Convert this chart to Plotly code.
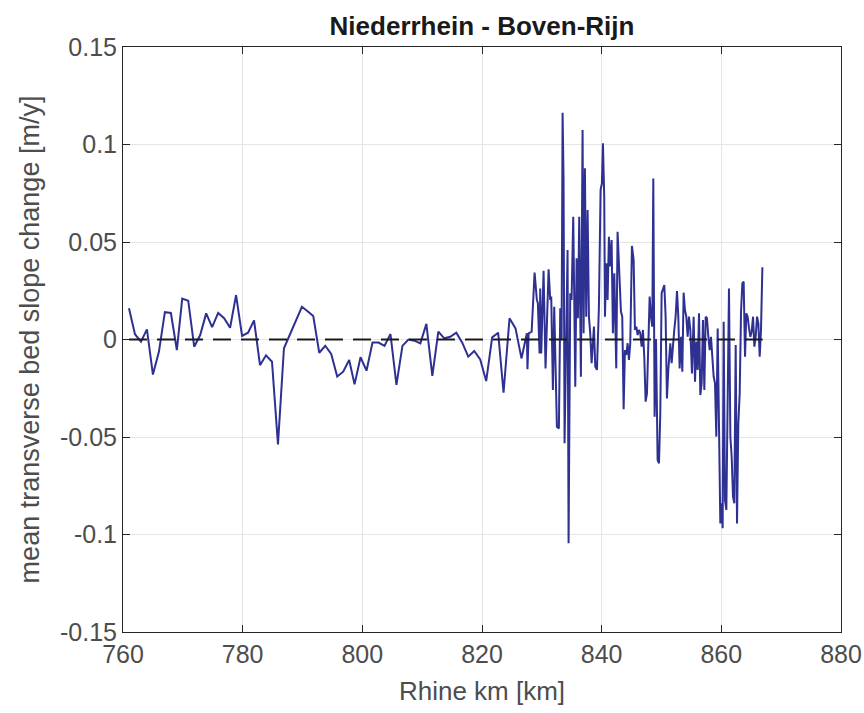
import plotly.graph_objects as go

# Rhine km and mean transverse bed slope change [m/y]
km = [
    761.0, 762.0, 763.0, 764.0, 765.0, 766.0, 767.0, 768.0, 769.0, 769.9,
    770.9, 771.9, 772.9, 773.9, 774.9, 775.9, 776.9, 777.9, 778.9, 779.9,
    780.9, 781.9, 782.9, 783.9, 784.9, 785.9, 786.9, 787.9, 788.9, 789.9,
    790.9, 791.8, 792.8, 793.8, 794.8, 795.8, 796.8, 797.8, 798.7, 799.7,
    800.7, 801.7, 802.7, 803.7, 804.7, 805.7, 806.7, 807.7, 808.7, 809.7,
    810.7, 811.7, 812.7, 813.7, 814.7, 815.7, 816.7, 817.7, 818.7, 819.7,
    820.7, 821.7, 822.7, 823.6, 824.6, 825.6, 826.6, 827.5, 827.6, 827.8,
    828.3, 828.79, 829.17, 829.34, 829.62, 829.73, 829.90, 830.29, 830.62, 830.85,
    831.13, 831.40, 831.57, 831.85, 832.07, 832.52, 832.85, 833.08, 833.30, 833.47,
    833.63, 833.80, 834.08, 834.30, 834.47, 834.75, 834.97, 835.25, 835.59, 835.81,
    836.03, 836.25, 836.53, 836.81, 836.98, 837.20, 837.42, 837.65, 837.87, 838.09,
    838.32, 838.71, 838.93, 839.21, 839.54, 839.82, 840.04, 840.21, 840.43, 840.55,
    840.77, 840.99, 841.21, 841.44, 841.66, 841.88, 842.11, 842.44, 842.66, 842.89,
    843.22, 843.44, 843.67, 843.89, 844.11, 844.34, 844.56, 844.78, 845.06, 845.34,
    845.56, 845.79, 846.01, 846.23, 846.45, 846.68, 846.90, 847.12, 847.35, 847.57,
    847.79, 848.02, 848.24, 848.46, 848.63, 848.85, 849.08, 849.35, 849.58, 849.80,
    850.02, 850.25, 850.47, 850.69, 850.91, 851.14, 851.47, 851.69, 851.92, 852.14,
    852.36, 852.59, 852.81, 853.03, 853.26, 853.48, 853.70, 853.92, 854.15, 854.37,
    854.59, 854.82, 855.09, 855.37, 855.60, 855.82, 856.04, 856.27, 856.49, 856.71,
    856.93, 857.16, 857.38, 857.60, 857.83, 858.05, 858.27, 858.49, 858.72, 858.94,
    859.16, 859.39, 859.61, 859.83, 860.06, 860.22, 860.39, 860.61, 860.84, 861.06,
    861.28, 861.51, 861.73, 861.95, 862.17, 862.40, 862.62, 862.84, 863.07, 863.29,
    863.51, 863.73, 863.96, 864.18, 864.40, 864.63, 864.85, 865.07, 865.30, 865.52,
    865.74, 865.97, 866.19, 866.41, 866.63, 866.86,
]
slope = [
    0.0160, 0.0027, -0.0011, 0.0052, -0.0180, -0.0063, 0.0140, 0.0136, -0.0054, 0.0210,
    0.0199, -0.0037, 0.0023, 0.0134, 0.0063, 0.0136, 0.0109, 0.0060, 0.0228, 0.0018,
    0.0035, 0.0098, -0.0132, -0.0081, -0.0114, -0.0538, -0.0045, 0.0026, 0.0097, 0.0168,
    0.0144, 0.0120, -0.0068, -0.0032, -0.0074, -0.0190, -0.0165, -0.0105, -0.0230, -0.0091,
    -0.0160, -0.0016, -0.0016, -0.0033, 0.0028, -0.0233, -0.0033, 0.0000, -0.0006, -0.0020,
    0.0080, -0.0187, 0.0040, 0.0006, 0.0014, 0.0035, -0.0016, -0.0088, -0.0059, -0.0102,
    -0.0213, 0.0011, 0.0035, -0.0273, 0.0109, 0.0057, -0.0097, 0.0032, -0.0153, 0.0032,
    0.0040, 0.0343, 0.0203, 0.0186, -0.0071, 0.0262, -0.0071, 0.0353, -0.0148, 0.0134,
    0.0360, 0.0203, 0.0220, -0.0259, 0.0168, -0.0447, -0.0456, 0.0160, -0.0003, 0.1163,
    0.0826, -0.0532, 0.0032, 0.0459, -0.1045, 0.0237, 0.0203, 0.0630, -0.0242, 0.0416,
    0.0109, 0.0630, -0.0191, 0.1074, 0.0032, 0.0878, 0.0117, 0.0664, 0.0117, 0.0032,
    -0.0122, 0.0066, -0.0139, -0.0156, 0.0168, 0.0767, 0.0801, 0.1006, 0.0732, 0.0117,
    0.0391, 0.0203, 0.0527, 0.0374, 0.0510, 0.0032, 0.0340, -0.0148, 0.0553, 0.0340,
    0.0143, 0.0117, -0.0358, -0.0054, -0.0079, -0.0019, -0.0105, -0.0019, 0.0480, 0.0408,
    0.0049, 0.0066, 0.0023, 0.0049, 0.0032, -0.0037, 0.0049, -0.0088, -0.0319, -0.0276,
    0.0032, 0.0220, 0.0117, 0.0066, 0.0826, -0.0396, 0.0003, -0.0618, -0.0635, -0.0378,
    0.0237, 0.0254, 0.0279, 0.0117, -0.0302, -0.0156, -0.0019, -0.0122, -0.0019, 0.0049,
    0.0117, 0.0249, 0.0117, -0.0148, 0.0014, -0.0165, 0.0240, 0.0151, 0.0117, 0.0014,
    0.0117, 0.0049, -0.0174, 0.0117, -0.0216, -0.0011, -0.0156, 0.0134, -0.0285, -0.0225,
    0.0100, -0.0259, 0.0117, 0.0109, 0.0014, -0.0054, 0.0014, -0.0071, -0.0191, -0.0225,
    -0.0498, 0.0057, -0.0464, -0.0943, -0.0840, -0.0968, 0.0091, -0.0823, -0.0874, -0.0327,
    0.0262, -0.0498, -0.0601, -0.0806, -0.0840, -0.0028, -0.0943, -0.0430, -0.0276, 0.0142,
    0.0288, 0.0297, -0.0088, 0.0134, 0.0117, 0.0057, 0.0014, 0.0040, 0.0117, -0.0037,
    0.0014, 0.0117, 0.0083, -0.0088, 0.0049, 0.0370,
]

ref_km = [761.0, 866.9]
ref_val = [0.0, 0.0]

x_ticks = [760, 780, 800, 820, 840, 860, 880]
y_ticks = [-0.15, -0.1, -0.05, 0, 0.05, 0.1, 0.15]
y_labels = ["-0.15", "-0.1", "-0.05", "0", "0.05", "0.1", "0.15"]

FONT = "Liberation Sans, Arial, Helvetica, sans-serif"
TXT = "#4d4d4d"

fig = go.Figure()
fig.add_trace(go.Scatter(x=km, y=slope, mode="lines",
                         line=dict(color="#2e3192", width=2), showlegend=False))
fig.add_trace(go.Scatter(x=ref_km, y=ref_val, mode="lines",
                         line=dict(color="#1a1a1a", width=2, dash="18px,10px"),
                         showlegend=False))

axis_common = dict(showgrid=True, gridcolor="#e5e5e5", gridwidth=1,
                   showline=True, linecolor="#262626", linewidth=1,
                   mirror="ticks", ticks="inside", ticklen=7, tickcolor="#262626",
                   zeroline=False, automargin=False,
                   tickfont=dict(family=FONT, size=25, color=TXT))

fig.update_xaxes(range=[760, 880], tickvals=x_ticks,
                 title=dict(text="Rhine km [km]", font=dict(family=FONT, size=26, color=TXT),
                            standoff=14),
                 **axis_common)
fig.update_yaxes(range=[-0.15, 0.15], tickvals=y_ticks, ticktext=y_labels,
                 title=dict(text="mean transverse bed slope change [m/y]",
                            font=dict(family=FONT, size=27, color=TXT), standoff=12),
                 **axis_common)

fig.update_layout(
    width=864, height=713,
    margin=dict(l=123, r=23, t=47, b=81),
    paper_bgcolor="white", plot_bgcolor="white",
    title=dict(text="<b>Niederrhein - Boven-Rijn</b>", x=0.5, xanchor="center",
               xref="paper", y=1, yref="paper", yanchor="bottom", pad=dict(b=12),
               font=dict(family=FONT, size=26, color="#1a1a1a")),
)

fig.write_html("out.html")
